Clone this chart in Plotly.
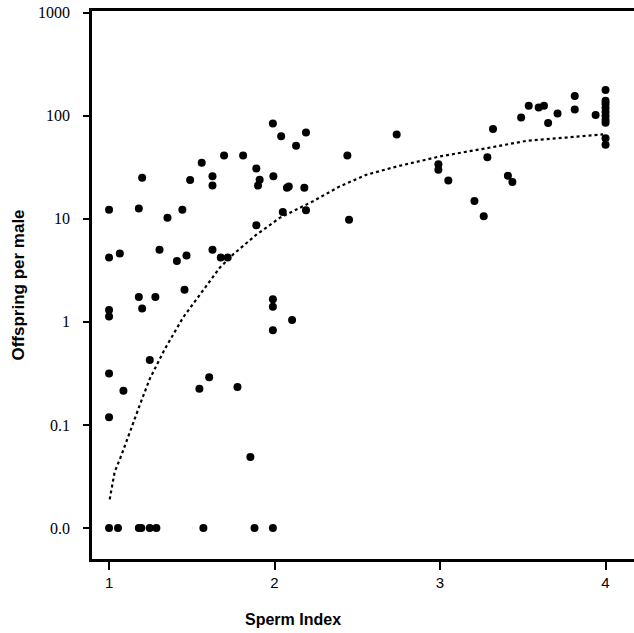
import plotly.graph_objects as go

# Observed males: sperm index vs offspring per male (0 plotted at the "0.0" row)
sperm_index = [
    1.0, 1.0, 1.0, 1.0, 1.0, 1.0, 1.0,
    1.065, 1.087, 1.054,
    1.18, 1.20, 1.18, 1.20, 1.18, 1.195,
    1.246, 1.246, 1.286, 1.28, 1.305, 1.353,
    1.41, 1.443, 1.456, 1.468, 1.49,
    1.546, 1.56, 1.57,
    1.605, 1.625, 1.625, 1.625,
    1.675, 1.717, 1.695,
    1.776, 1.81, 1.854, 1.879,
    1.89, 1.89, 1.90, 1.91,
    1.99, 1.993, 1.99, 1.99, 1.99, 1.99,
    2.04, 2.05, 2.075, 2.086, 2.106, 2.13, 2.18, 2.19, 2.19,
    2.44, 2.45, 2.738,
    2.99, 2.99, 3.05,
    3.208, 3.264, 3.286, 3.32, 3.41, 3.437,
    3.49, 3.536, 3.596, 3.628, 3.653, 3.71,
    3.814, 3.814, 3.94,
    4.0, 4.0, 4.0, 4.0, 4.0, 4.0, 4.0, 4.0, 4.0, 4.0,
]
offspring = [
    12.2, 4.2, 1.30, 1.13, 0.315, 0.119, 0,
    4.6, 0.215, 0,
    12.6, 25, 1.74, 1.35, 0, 0,
    0.426, 0, 0, 1.74, 5.0, 10.2,
    3.9, 12.2, 2.05, 4.4, 23.7,
    0.224, 35, 0,
    0.29, 25.8, 21, 5.0,
    4.2, 4.2, 41,
    0.234, 41, 0.049, 0,
    30.8, 8.65, 21, 23.9,
    84, 25.8, 1.66, 1.40, 0.83, 0,
    63, 11.6, 20, 20.6, 1.04, 51, 20, 68.6, 12.1,
    41, 9.8, 65.5,
    33.8, 29.9, 23.5,
    14.9, 10.6, 39.5, 74.3, 26.1, 22.7,
    96, 125, 120, 125, 85, 105,
    155, 115, 101.6,
    177, 139.7, 130.6, 119.5, 109.3, 100, 91.5, 85.5, 60.4, 52.1,
]
zero_row = 0.01  # position of the "0.0" row on the log axis

# Fitted curve (dotted line)
curve_x = [1.004, 1.034, 1.075, 1.135, 1.185, 1.246, 1.337, 1.447, 1.608, 1.669,
           1.749, 1.89, 2.031, 2.233, 2.394, 2.555, 2.737, 2.998, 3.28, 3.52, 3.764, 3.985]
curve_y = [0.019, 0.035, 0.051, 0.095, 0.155, 0.28, 0.545, 1.1, 2.49, 3.35,
           4.5, 7.0, 10.2, 14.8, 20.6, 26.7, 32.1, 40.2, 48.3, 56.9, 61.3, 65.9]

y_tickvals = [0.01, 0.1, 1, 10, 100, 1000]
y_ticktext = ["0.0", "0.1", "1", "10", "100", "1000"]
x_tickvals = [1, 2, 3, 4]

plot_y = [v if v > 0 else zero_row for v in offspring]

fig = go.Figure()
fig.add_trace(go.Scatter(
    x=curve_x, y=curve_y, mode="lines",
    line=dict(color="black", width=2.2, dash="3px,3px"),
    hoverinfo="skip", showlegend=False,
))
fig.add_trace(go.Scatter(
    x=sperm_index, y=plot_y, mode="markers",
    marker=dict(color="black", size=8, line=dict(width=0)),
    showlegend=False,
))

# the frame continues well past the right edge of the picture, as in the original
fig.update_layout(
    width=700, height=633,
    margin=dict(l=92, r=30, t=11, b=74, autoexpand=False),
    paper_bgcolor="white", plot_bgcolor="white",
    xaxis=dict(
        range=[0.897, 4.3895], tickvals=x_tickvals,
        ticks="outside", ticklen=8, tickwidth=2, tickcolor="black",
        showline=True, linewidth=2.5, linecolor="black", mirror=True,
        showgrid=False, zeroline=False, automargin=False,
        tickfont=dict(family="Liberation Sans, Arial", size=15, color="black"),
    ),
    yaxis=dict(
        type="log", range=[-2.3, 3.015],
        tickvals=y_tickvals, ticktext=y_ticktext,
        ticks="outside", ticklen=6, tickwidth=2, tickcolor="black",
        showline=True, linewidth=2.5, linecolor="black", mirror=False,
        showgrid=False, zeroline=False, automargin=False,
        ticklabeloverflow="allow", ticklabelstandoff=10,
        tickfont=dict(family="Liberation Serif, Times New Roman", size=16, color="black"),
        title=dict(text="Offspring per male", standoff=10,
                   font=dict(family="Liberation Sans, Arial", size=17, color="black", weight="bold")),
    ),
    annotations=[dict(
        text="Sperm Index", xref="paper", yref="paper",
        x=(293 - 92) / 578, y=-0.111, xanchor="center", yanchor="middle", showarrow=False,
        font=dict(family="Liberation Sans, Arial", size=16, color="black", weight="bold"),
    )],
)

# remove the browser's default page margin and scrollbars so the figure fills the window
fig.write_html("out.html", config={"displayModeBar": False},
               post_script="document.body.style.margin='0px';document.body.style.overflow='hidden';document.documentElement.style.overflow='hidden';")
